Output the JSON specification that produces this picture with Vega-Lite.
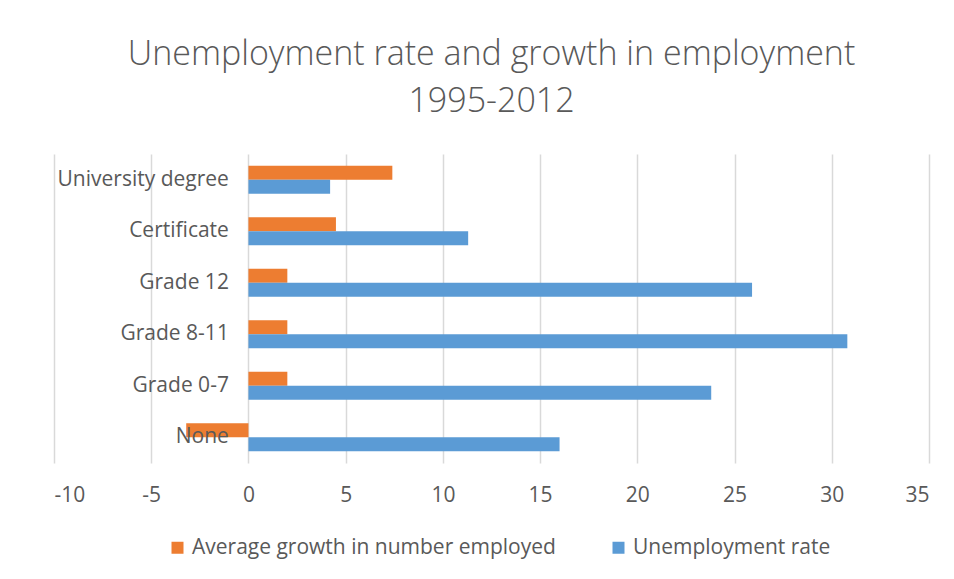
{
  "$schema": "https://vega.github.io/schema/vega-lite/v6.json",
  "width": 875,
  "height": 309,
  "autosize": {"type": "none"},
  "padding": {"left": 54, "top": 154, "right": 25, "bottom": 116},
  "background": "white",
  "title": {
    "text": ["Unemployment rate and growth in employment", "1995-2012"],
    "font": "Open Sans",
    "fontWeight": 300,
    "fontSize": 34,
    "color": "#595959",
    "lineHeight": 47,
    "anchor": "middle",
    "offset": 35
  },
  "data": {
    "values": [
      {"category": "University degree", "series": "Average growth in number employed", "value": 7.4},
      {"category": "University degree", "series": "Unemployment rate", "value": 4.2},
      {"category": "Certificate", "series": "Average growth in number employed", "value": 4.5},
      {"category": "Certificate", "series": "Unemployment rate", "value": 11.3},
      {"category": "Grade 12", "series": "Average growth in number employed", "value": 2.0},
      {"category": "Grade 12", "series": "Unemployment rate", "value": 25.9},
      {"category": "Grade 8-11", "series": "Average growth in number employed", "value": 2.0},
      {"category": "Grade 8-11", "series": "Unemployment rate", "value": 30.8},
      {"category": "Grade 0-7", "series": "Average growth in number employed", "value": 2.0},
      {"category": "Grade 0-7", "series": "Unemployment rate", "value": 23.8},
      {"category": "None", "series": "Average growth in number employed", "value": -3.2},
      {"category": "None", "series": "Unemployment rate", "value": 16.0}
    ]
  },
  "mark": {"type": "bar"},
  "encoding": {
    "y": {
      "field": "category",
      "type": "nominal",
      "sort": ["University degree", "Certificate", "Grade 12", "Grade 8-11", "Grade 0-7", "None"],
      "scale": {"paddingInner": 0.456, "paddingOuter": 0.228},
      "axis": {
        "title": null,
        "offset": -194.4,
        "domain": false,
        "ticks": false,
        "grid": false,
        "labelPadding": 20,
        "labelFont": "Open Sans",
        "labelFontSize": 21,
        "labelColor": "#595959",
        "labelLimit": 300,
        "zindex": 1
      }
    },
    "yOffset": {
      "field": "series",
      "type": "nominal",
      "scale": {"domain": ["Average growth in number employed", "Unemployment rate"], "paddingInner": 0, "paddingOuter": 0}
    },
    "x": {
      "field": "value",
      "type": "quantitative",
      "scale": {"domain": [-10, 35], "nice": false, "zero": false},
      "axis": {
        "title": null,
        "values": [-10, -5, 0, 5, 10, 15, 20, 25, 30, 35],
        "labelExpr": "'' + datum.value",
        "domain": false,
        "ticks": false,
        "grid": true,
        "gridColor": "#d9d9d9",
        "gridWidth": 1.5,
        "labelPadding": 21,
        "labelFont": "Open Sans",
        "labelFontSize": 21,
        "labelColor": "#595959",
        "zindex": 0
      }
    },
    "color": {
      "field": "series",
      "type": "nominal",
      "scale": {"domain": ["Average growth in number employed", "Unemployment rate"], "range": ["#ED7D31", "#5B9BD5"]},
      "legend": {
        "title": null,
        "orient": "none",
        "legendX": 113,
        "legendY": 383,
        "direction": "horizontal",
        "symbolType": "square",
        "symbolSize": 144,
        "symbolStrokeWidth": 0,
        "labelFont": "Open Sans",
        "labelFontSize": 21,
        "labelColor": "#595959",
        "labelLimit": 500,
        "labelOffset": 4,
        "columnPadding": 52
      }
    }
  },
  "config": {"view": {"stroke": null}}
}
